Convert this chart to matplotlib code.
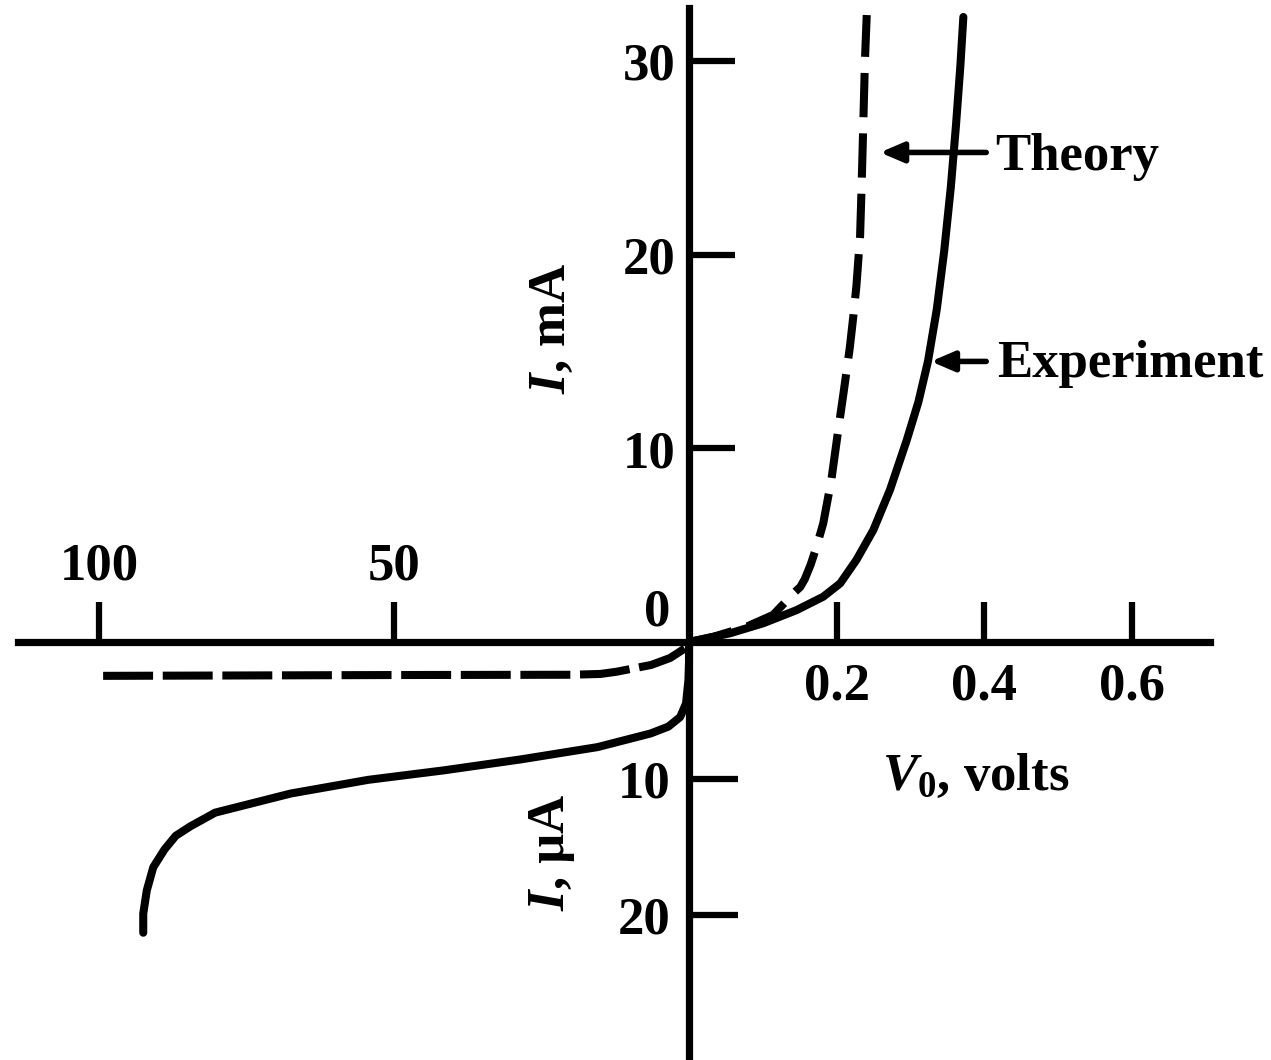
import matplotlib
matplotlib.use("Agg")
import matplotlib.pyplot as plt

# -----------------------------
# Fuentes (Times-like, negrita)
# -----------------------------
plt.rcParams["font.family"] = "Liberation Serif"
plt.rcParams["font.weight"] = "bold"
plt.rcParams["font.size"] = 38
plt.rcParams["mathtext.fontset"] = "custom"
plt.rcParams["mathtext.rm"] = "Liberation Serif:bold"
plt.rcParams["mathtext.it"] = "Liberation Serif:italic:bold"
plt.rcParams["mathtext.bf"] = "Liberation Serif:bold"

# -----------------------------
# Datos
# -----------------------------
# directa: V en volts, I en mA
fwd_theory_v = [0.0, 0.033, 0.078, 0.114, 0.144, 0.151, 0.157, 0.165, 0.173,
                0.182, 0.193, 0.2025, 0.210, 0.218, 0.223, 0.227, 0.232,
                0.234, 0.236, 0.2386, 0.241]
fwd_theory_ma = [0.0, 0.27, 0.79, 1.40, 2.6, 2.85, 3.25, 4.0, 4.93,
                 6.13, 8.37, 11.0, 13.0, 15.2, 16.9, 18.4, 21.0,
                 23.5, 26.3, 30.1, 32.4]

fwd_exp_v = [0.0, 0.0556, 0.1008, 0.146, 0.182, 0.205, 0.227, 0.25, 0.2725,
             0.295, 0.311, 0.324, 0.336, 0.346, 0.355, 0.362, 0.368, 0.372]
fwd_exp_ma = [0.0, 0.45, 0.97, 1.65, 2.34, 3.03, 4.24, 5.79, 7.86,
              10.4, 12.4, 14.5, 17.2, 20.2, 23.5, 26.7, 29.8, 32.3]

# inversa: V en volts (inversa), I en uA
rev_theory_v = [99.3, 50.0, 20.0, 15.0, 12.3, 6.4, 3.2, 0.6, 0.0]
rev_theory_ua = [2.48, 2.42, 2.40, 2.34, 2.18, 1.68, 1.17, 0.44, 0.0]

rev_exp_v = [0.0, 0.0, 0.1, 0.5, 1.5, 3.5, 6.5, 15.5, 28.5, 41.5, 54.4,
             67.5, 80.3, 84.5, 87.0, 88.9, 90.8, 91.9, 92.5, 92.5]
rev_exp_ua = [0.0, 1.5, 2.8, 4.5, 5.5, 6.2, 6.7, 7.7, 8.6, 9.4, 10.1,
              11.1, 12.5, 13.5, 14.2, 15.2, 16.5, 18.2, 19.9, 21.3]

fwd_v_ticks = [0.2, 0.4, 0.6]
fwd_v_labels = ["0.2", "0.4", "0.6"]
ma_ticks = [10, 20, 30]
rev_v_ticks = [50, 100]
ua_ticks = [10, 20]

# -----------------------------
# Geometría (pixeles)
# -----------------------------
W, H = 1271, 1060
X0, Y0 = 689, 642           # origen
PX_V_FWD = 737.5            # px por volt (directa)
PX_MA = 19.35               # px por mA
PX_V_REV = 5.9              # px por volt (inversa)
PX_UA = 13.65               # px por uA

LW_AX = 5.2
LW_CURVE = 5.8
TICK_W = 4.5

fig = plt.figure(figsize=(W / 100, H / 100), dpi=100)
ax_f = fig.add_axes([0, 0, 1, 1])
ax_r = fig.add_axes([0, 0, 1, 1])

ax_f.set_xlim(-X0 / PX_V_FWD, (W - X0) / PX_V_FWD)
ax_f.set_ylim(-(H - Y0) / PX_MA, Y0 / PX_MA)
ax_r.set_xlim(X0 / PX_V_REV, -(W - X0) / PX_V_REV)
ax_r.set_ylim((H - Y0) / PX_UA, -Y0 / PX_UA)
ax_r.patch.set_visible(False)

# ejes de la parte directa
for s in ["top", "right"]:
    ax_f.spines[s].set_visible(False)
ax_f.spines["left"].set_position(("data", 0))
ax_f.spines["bottom"].set_position(("data", 0))
ax_f.spines["left"].set_bounds(ax_f.get_ylim()[0], (Y0 - 8) / PX_MA)
ax_f.spines["bottom"].set_bounds((18 - X0) / PX_V_FWD, (1210 - X0) / PX_V_FWD)
for s in ["left", "bottom"]:
    ax_f.spines[s].set_linewidth(LW_AX)

ax_f.set_xticks(fwd_v_ticks, labels=fwd_v_labels)
ax_f.set_yticks(ma_ticks)
ax_f.tick_params(axis="x", direction="in", length=29, width=TICK_W, pad=15)
ax_f.tick_params(axis="y", direction="in", length=33, width=TICK_W, pad=10)

# ticks de la parte inversa (sin línea propia)
for s in ax_r.spines.values():
    s.set_visible(False)
ax_r.spines["top"].set_position(("data", 0))
ax_r.spines["left"].set_position(("data", 0))
ax_r.set_xticks(rev_v_ticks)
ax_r.set_yticks(ua_ticks)
ax_r.tick_params(axis="x", direction="out", length=29, width=TICK_W, pad=8,
                 top=True, bottom=False, labeltop=True, labelbottom=False)
ax_r.tick_params(axis="y", direction="in", length=35, width=TICK_W, pad=13)

# curvas
ax_f.plot(fwd_theory_v, fwd_theory_ma, color="black", lw=LW_CURVE,
          ls=(0, (5.5, 2.0)), dash_capstyle="butt", dash_joinstyle="round")
ax_f.plot(fwd_exp_v, fwd_exp_ma, color="black", lw=LW_CURVE,
          solid_capstyle="round", solid_joinstyle="round")
ax_r.plot(rev_theory_v, rev_theory_ua, color="black", lw=LW_CURVE,
          ls=(0, (6.2, 1.2)), dash_capstyle="butt", dash_joinstyle="round")
ax_r.plot(rev_exp_v, rev_exp_ua, color="black", lw=LW_CURVE,
          solid_capstyle="round", solid_joinstyle="round")

# etiqueta del cero
ax_f.annotate("0", xy=(0, 0), xytext=(-32, 30), textcoords="offset pixels",
              ha="center", va="center")

# títulos de ejes
fig.text(552 / W, 1 - 328 / H, "$I$, mA", rotation=90, ha="center", va="center")
fig.text(552 / W, 1 - 852 / H, "$I$, µA", rotation=90, ha="center", va="center")
fig.text(882 / W, 1 - 790 / H, r"$V_\mathrm{0}$, volts", ha="left", va="baseline")

# flechas Theory / Experiment
arrow = dict(arrowstyle="-|>,head_length=0.7,head_width=0.3", mutation_scale=20,
             lw=4, color="black", shrinkA=0, shrinkB=0)
ax_f.annotate("", xy=(0.259, 25.3), xytext=(0.403, 25.3), arrowprops=arrow)
ax_f.annotate("", xy=(0.328, 14.5), xytext=(0.403, 14.5), arrowprops=arrow)
fig.text(995 / W, 1 - 170 / H, "Theory", ha="left", va="baseline")
fig.text(997 / W, 1 - 377 / H, "Experiment", ha="left", va="baseline")

fig.savefig("out.png", dpi=100)
plt.close(fig)
